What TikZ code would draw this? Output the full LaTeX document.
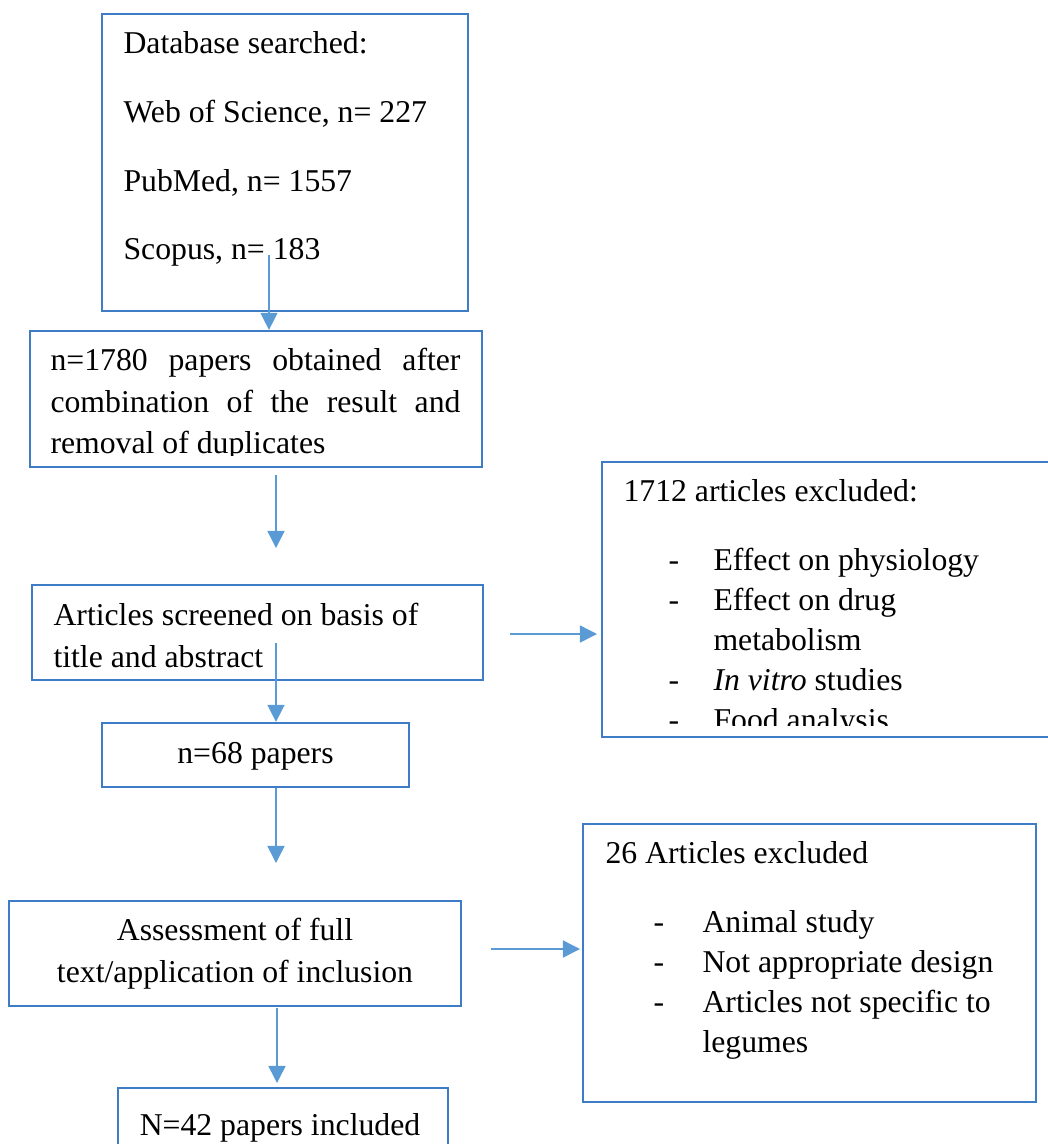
\documentclass[tikz,border=0pt]{standalone}
\usepackage{fontspec}
\setmainfont{Liberation Serif}
\usetikzlibrary{arrows.meta}
\newdimen\upx \upx=0.375pt
\definecolor{boxblue}{RGB}{62,124,198}
\definecolor{arrowblue}{RGB}{91,155,213}
\begin{document}
\begin{tikzpicture}[x=0.375pt,y=-0.375pt,
  box/.style={draw=boxblue, line width=0.85pt, fill=white, inner sep=0pt, rectangle},
  txt/.style={inner sep=0pt, anchor=base west, font=\fontsize{11.9pt}{14pt}\selectfont},
  ctxt/.style={txt, anchor=base},
  arr/.style={draw=arrowblue, line width=0.55pt, -{Triangle[length=6.4pt,width=6.4pt]}}]
\clip (0,0) rectangle (1048,1144);

% ---- boxes ----
\node[box, minimum width=366\upx, minimum height=297\upx] (db)     at (285,162.5) {};
\node[box, minimum width=452\upx, minimum height=136\upx] (comb)   at (256,399)   {};
\node[box, minimum width=451\upx, minimum height=95\upx]  (screen) at (257.5,632.5) {};
\node[box, minimum width=307\upx, minimum height=64\upx]  (n68)    at (255.5,755) {};
\node[box, minimum width=452\upx, minimum height=105\upx] (assess) at (235,953.5) {};
\node[box, minimum width=330\upx, minimum height=82\upx]  (incl)   at (283,1129)  {};
\node[box, minimum width=468\upx, minimum height=275\upx] (exclA)  at (836,599.5) {};
\node[box, minimum width=453\upx, minimum height=278\upx] (exclB)  at (809.5,963) {};

% ---- database search ----
\node[txt] (db1) at (123,53)  {Database searched:};
\node[txt] (db2) at (123,122) {Web of Science, n= 227};
\node[txt] (db3) at (123,191) {PubMed, n= 1557};
\node[txt] (db4) at (123,259) {Scopus, n= 183};

% ---- combined records (text cut by the box) ----
\begin{scope}
\clip (31,332) rectangle (481,455);
\node[txt] (cb1) at (50,370) {\makebox[153.75pt][s]{n=1780 papers obtained after}};
\node[txt] (cb2) at (50,412) {\makebox[153.75pt][s]{combination of the result and}};
\node[txt] (cb3) at (50,453) {removal of duplicates};
\end{scope}

% ---- screening ----
\node[txt] (sc1) at (53,625) {Articles screened on basis of};
\node[txt] (sc2) at (53,667) {title and abstract};
\node[ctxt] (n68t) at (255.5,763) {n=68 papers};

% ---- full text assessment ----
\node[ctxt] (as1) at (235,940) {Assessment of full};
\node[ctxt] (as2) at (235,982) {text/application of inclusion};
\node[ctxt] (inclt) at (280,1135) {N=42 papers included};

% ---- first exclusion list (text cut by the box) ----
\node[txt] (ea0) at (623,501) {1712 articles excluded:};
\begin{scope}
\clip (603,463) rectangle (1048,725);
\node[txt] (ead1) at (668,570) {-};
\node[txt] (ea1)  at (713,570) {Effect on physiology};
\node[txt] (ead2) at (668,610) {-};
\node[txt] (ea2)  at (713,610) {Effect on drug};
\node[txt] (ea3)  at (713,650) {metabolism};
\node[txt] (ead4) at (668,690) {-};
\node[txt] (ea4)  at (713,690) {\textit{In vitro} studies};
\node[txt] (ead5) at (668,730) {-};
\node[txt] (ea5)  at (713,730) {Food analysis};
\end{scope}

% ---- second exclusion list ----
\node[txt] (eb0)  at (605,863)  {26 Articles excluded};
\node[txt] (ebd1) at (653,932)  {-};
\node[txt] (eb1)  at (702,932)  {Animal study};
\node[txt] (ebd2) at (653,972)  {-};
\node[txt] (eb2)  at (702,972)  {Not appropriate design};
\node[txt] (ebd3) at (653,1012) {-};
\node[txt] (eb3)  at (702,1012) {Articles not specific to};
\node[txt] (eb4)  at (702,1052) {legumes};

% ---- connectors ----
\coordinate (a1s) at (269,255);
\draw[arr] (a1s) -- (a1s |- comb.north);
\coordinate (a2s) at (276,475);
\coordinate (a2e) at (276,548);
\draw[arr] (a2s) -- (a2e);
\coordinate (a3s) at (276,643);
\draw[arr] (a3s) -- (a3s |- n68.north);
\coordinate (a4e) at (276,863);
\draw[arr] (a4e |- n68.south) -- (a4e);
\coordinate (aAs) at (510,634);
\coordinate (aAe) at (597,634);
\draw[arr] (aAs) -- (aAe);
\coordinate (aBs) at (491,949);
\coordinate (aBe) at (580,949);
\draw[arr] (aBs) -- (aBe);
\coordinate (a5s) at (277,1008);
\coordinate (a5e) at (277,1083);
\draw[arr] (a5s) -- (a5e);
\end{tikzpicture}
\end{document}
